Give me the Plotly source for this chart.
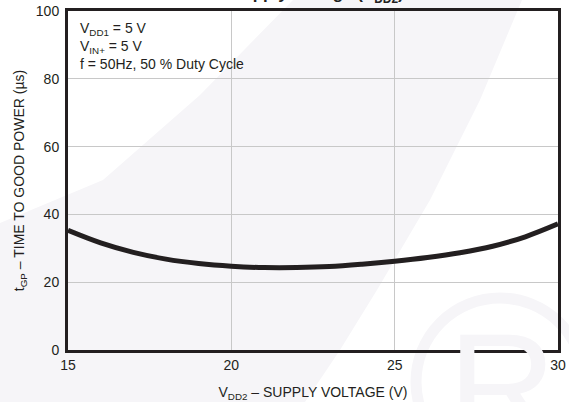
import plotly.graph_objects as go

# Supply voltage VDD2 (V) and time to good power tGP (µs)
vdd2 = [15, 16, 17, 18, 19, 20, 21, 22, 23, 24, 25, 26, 27, 28, 29, 30]
t_gp = [35.3, 31.6, 28.8, 26.8, 25.5, 24.7, 24.3, 24.3, 24.6, 25.3,
        26.2, 27.3, 28.7, 30.6, 33.4, 37.2]

x_ticks = [15, 20, 25, 30]
y_ticks = [0, 20, 40, 60, 80, 100]

conditions = ["V<sub>DD1</sub> = 5 V", "V<sub>IN+</sub> = 5 V", "f = 50Hz, 50 % Duty Cycle"]

W, H = 569, 402
ML, MR, MT, MB = 68, 11, 11, 52
PW, PH = W - ML - MR, H - MT - MB

INK = "#231f20"
FONT = "Liberation Sans, Arial, Helvetica, sans-serif"


def px(xp):
    return (xp - ML) / PW


def py(yp):
    return (H - MB - yp) / PH


fig = go.Figure()
fig.add_trace(go.Scatter(
    x=vdd2, y=t_gp, mode="lines",
    line=dict(color=INK, width=5, shape="spline", smoothing=1.0),
    hoverinfo="skip", showlegend=False,
))

# faint background watermark: a curved swoosh band and a registered mark
band = [(293, 0), (522, 0), (480, 100), (430, 200), (377, 290), (340, 350),
        (305, 402), (0, 402), (0, 223), (103, 180), (200, 95)]
path = "M " + " L ".join(f"{px(a):.4f},{py(b):.4f}" for a, b in band) + " Z"
shapes = [
    dict(type="path", xref="paper", yref="paper", path=path,
         fillcolor="#f6f5f8", line=dict(width=0), layer="below"),
    dict(type="circle", xref="paper", yref="paper",
         x0=px(500 - 84), x1=px(500 + 84), y0=py(382 + 84), y1=py(382 - 84),
         line=dict(color="#f6f5f8", width=11), layer="below"),
]

annotations = [
    dict(xref="paper", yref="paper", x=px(502), y=py(300), xanchor="center", yanchor="top",
         text="R", showarrow=False, font=dict(family=FONT, size=150, color="#f6f5f8")),
    dict(xref="paper", yref="paper", x=px(229), y=py(8), xanchor="left", yanchor="bottom",
         text="<b>Supply Voltage (V<sub>DD2</sub>)</b>", showarrow=False,
         font=dict(family=FONT, size=17, color=INK)),
    dict(xref="paper", yref="paper", x=px(78), y=py(18), xanchor="left", yanchor="top",
         text="<br>".join(conditions), align="left", showarrow=False,
         font=dict(family=FONT, size=14, color=INK)),
]

fig.update_layout(
    width=W, height=H,
    margin=dict(l=ML, r=MR, t=MT, b=MB, autoexpand=False),
    paper_bgcolor="white", plot_bgcolor="rgba(0,0,0,0)",
    font=dict(family=FONT, size=14, color=INK),
    shapes=shapes, annotations=annotations,
    xaxis=dict(
        range=[15, 30], tickvals=x_ticks, ticktext=[str(v) for v in x_ticks],
        showgrid=True, gridcolor="#c8c8c8", gridwidth=1,
        showline=True, linecolor=INK, linewidth=3, mirror=True,
        ticks="", zeroline=False, automargin=False,
        title=dict(text="V<sub>DD2</sub> – SUPPLY VOLTAGE (V)", standoff=16,
                   font=dict(size=14)),
    ),
    yaxis=dict(
        range=[0, 100], tickvals=y_ticks, ticktext=[str(v) for v in y_ticks],
        showgrid=True, gridcolor="#c8c8c8", gridwidth=1,
        showline=True, linecolor=INK, linewidth=3, mirror=True,
        ticks="outside", ticklen=3, tickcolor="rgba(0,0,0,0)",
        zeroline=False, automargin=False,
        title=dict(text="t<sub>GP</sub> – TIME TO GOOD POWER (µs)", standoff=8,
                   font=dict(size=14)),
    ),
)

fig.write_html("out.html")
